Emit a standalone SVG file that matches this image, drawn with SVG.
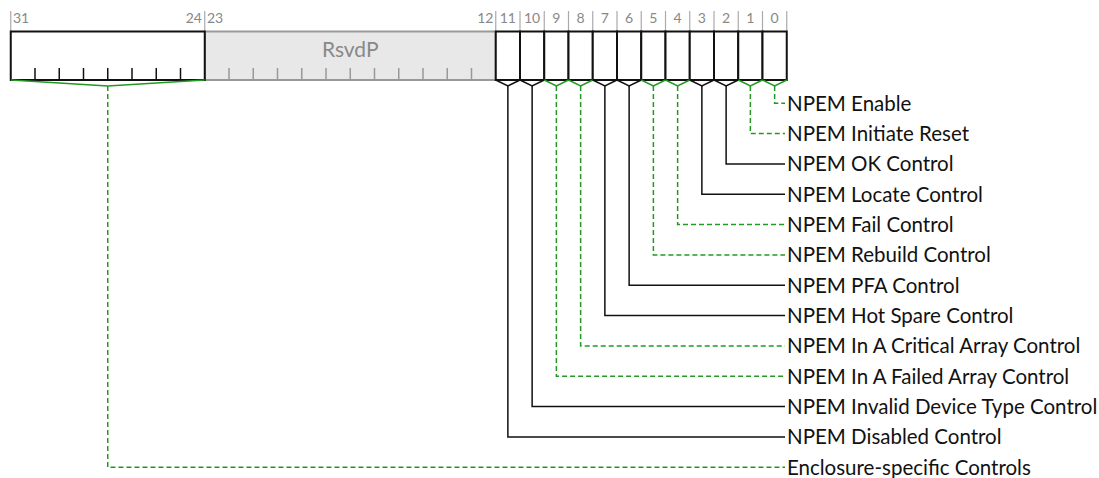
<svg xmlns="http://www.w3.org/2000/svg" width="1099" height="478" viewBox="0 0 1099 478">
<style>
.num{font-family:"Lato","Liberation Sans",sans-serif;font-size:14px;fill:#888}
.nl{stroke:#aaa;stroke-width:1.2}
.lbl{font-family:"Lato","Liberation Sans",sans-serif;font-size:20.5px;fill:#111}
.fld{fill:#fff;stroke:#111;stroke-width:2}
.rsv{fill:#e8e8e8;stroke:#999;stroke-width:2}
.tk{stroke:#111;stroke-width:1.5}
.tkg{stroke:#999;stroke-width:1.5}
.blk{fill:none;stroke:#111;stroke-width:1.5}
.grn{fill:none;stroke:#229922;stroke-width:1.5}
.dsh{fill:none;stroke:#229922;stroke-width:1.5;stroke-dasharray:5,3}
.rt{font-family:"Lato","Liberation Sans",sans-serif;font-size:21px;fill:#888}
</style>
<g id="bitnumbers">
<line class="nl" x1="10.75" y1="11" x2="10.75" y2="31"/>
<line class="nl" x1="204.75" y1="11" x2="204.75" y2="31"/>
<line class="nl" x1="495.75" y1="11" x2="495.75" y2="31"/>
<line class="nl" x1="520" y1="11" x2="520" y2="31"/>
<line class="nl" x1="544.25" y1="11" x2="544.25" y2="31"/>
<line class="nl" x1="568.5" y1="11" x2="568.5" y2="31"/>
<line class="nl" x1="592.75" y1="11" x2="592.75" y2="31"/>
<line class="nl" x1="617" y1="11" x2="617" y2="31"/>
<line class="nl" x1="641.25" y1="11" x2="641.25" y2="31"/>
<line class="nl" x1="665.5" y1="11" x2="665.5" y2="31"/>
<line class="nl" x1="689.75" y1="11" x2="689.75" y2="31"/>
<line class="nl" x1="714" y1="11" x2="714" y2="31"/>
<line class="nl" x1="738.25" y1="11" x2="738.25" y2="31"/>
<line class="nl" x1="762.5" y1="11" x2="762.5" y2="31"/>
<line class="nl" x1="786.75" y1="11" x2="786.75" y2="31"/>
<text class="num" x="13" y="22.7">31</text>
<text class="num" x="202" y="22.7" text-anchor="end">24</text>
<text class="num" x="207" y="22.7">23</text>
<text class="num" x="493.5" y="22.7" text-anchor="end">12</text>
<text class="num" x="507.875" y="22.7" text-anchor="middle">11</text>
<text class="num" x="532.125" y="22.7" text-anchor="middle">10</text>
<text class="num" x="556.375" y="22.7" text-anchor="middle">9</text>
<text class="num" x="580.625" y="22.7" text-anchor="middle">8</text>
<text class="num" x="604.875" y="22.7" text-anchor="middle">7</text>
<text class="num" x="629.125" y="22.7" text-anchor="middle">6</text>
<text class="num" x="653.375" y="22.7" text-anchor="middle">5</text>
<text class="num" x="677.625" y="22.7" text-anchor="middle">4</text>
<text class="num" x="701.875" y="22.7" text-anchor="middle">3</text>
<text class="num" x="726.125" y="22.7" text-anchor="middle">2</text>
<text class="num" x="750.375" y="22.7" text-anchor="middle">1</text>
<text class="num" x="774.625" y="22.7" text-anchor="middle">0</text>
</g>
<g id="field-rsvdp">
<rect class="rsv" x="204.75" y="31.5" width="291" height="48.5"/>
<path class="tkg" d="M229 68V80M253.25 68V80M277.5 68V80M301.75 68V80M326 68V80M350.25 68V80M374.5 68V80M398.75 68V80M423 68V80M447.25 68V80M471.5 68V80"/>
<text class="rt" x="350.25" y="57" text-anchor="middle">RsvdP</text>
</g>
<g id="field-31-24">
<rect class="fld" x="10.75" y="31.5" width="194" height="48.5"/>
<path class="tk" d="M35 68V80M59.25 68V80M83.5 68V80M107.75 68V80M132 68V80M156.25 68V80M180.5 68V80"/>
</g>
<g id="field-11-0">
<rect class="fld" x="495.75" y="31.5" width="24.25" height="48.5"/>
<rect class="fld" x="520" y="31.5" width="24.25" height="48.5"/>
<rect class="fld" x="544.25" y="31.5" width="24.25" height="48.5"/>
<rect class="fld" x="568.5" y="31.5" width="24.25" height="48.5"/>
<rect class="fld" x="592.75" y="31.5" width="24.25" height="48.5"/>
<rect class="fld" x="617" y="31.5" width="24.25" height="48.5"/>
<rect class="fld" x="641.25" y="31.5" width="24.25" height="48.5"/>
<rect class="fld" x="665.5" y="31.5" width="24.25" height="48.5"/>
<rect class="fld" x="689.75" y="31.5" width="24.25" height="48.5"/>
<rect class="fld" x="714" y="31.5" width="24.25" height="48.5"/>
<rect class="fld" x="738.25" y="31.5" width="24.25" height="48.5"/>
<rect class="fld" x="762.5" y="31.5" width="24.25" height="48.5"/>
</g>
<g id="connectors">
<polyline class="grn" points="10.75,80 107.75,86 204.75,80"/>
<polyline class="blk" points="495.75,80 507.875,86 520,80"/>
<polyline class="blk" points="520,80 532.125,86 544.25,80"/>
<polyline class="grn" points="544.25,80 556.375,86 568.5,80"/>
<polyline class="grn" points="568.5,80 580.625,86 592.75,80"/>
<polyline class="blk" points="592.75,80 604.875,86 617,80"/>
<polyline class="blk" points="617,80 629.125,86 641.25,80"/>
<polyline class="grn" points="641.25,80 653.375,86 665.5,80"/>
<polyline class="grn" points="665.5,80 677.625,86 689.75,80"/>
<polyline class="blk" points="689.75,80 701.875,86 714,80"/>
<polyline class="blk" points="714,80 726.125,86 738.25,80"/>
<polyline class="grn" points="738.25,80 750.375,86 762.5,80"/>
<polyline class="grn" points="762.5,80 774.625,86 786.75,80"/>
<polyline class="dsh" points="774.625,86 774.625,103.3 785,103.3"/>
<polyline class="dsh" points="750.375,86 750.375,133.6 785,133.6"/>
<polyline class="blk" points="726.125,86 726.125,164 785,164"/>
<polyline class="blk" points="701.875,86 701.875,194.3 785,194.3"/>
<polyline class="dsh" points="677.625,86 677.625,224.6 785,224.6"/>
<polyline class="dsh" points="653.375,86 653.375,255 785,255"/>
<polyline class="blk" points="629.125,86 629.125,285.3 785,285.3"/>
<polyline class="blk" points="604.875,86 604.875,315.6 785,315.6"/>
<polyline class="dsh" points="580.625,86 580.625,345.9 785,345.9"/>
<polyline class="dsh" points="556.375,86 556.375,376.3 785,376.3"/>
<polyline class="blk" points="532.125,86 532.125,406.6 785,406.6"/>
<polyline class="blk" points="507.875,86 507.875,436.9 785,436.9"/>
<polyline class="dsh" points="107.75,86 107.75,467.3 785,467.3"/>
</g>
<g id="labels">
<text class="lbl" x="787" y="110.7">NPEM Enable</text>
<text class="lbl" x="787" y="141">NPEM Initiate Reset</text>
<text class="lbl" x="787" y="171.4">NPEM OK Control</text>
<text class="lbl" x="787" y="201.7">NPEM Locate Control</text>
<text class="lbl" x="787" y="232">NPEM Fail Control</text>
<text class="lbl" x="787" y="262.4">NPEM Rebuild Control</text>
<text class="lbl" x="787" y="292.7">NPEM PFA Control</text>
<text class="lbl" x="787" y="323">NPEM Hot Spare Control</text>
<text class="lbl" x="787" y="353.3">NPEM In A Critical Array Control</text>
<text class="lbl" x="787" y="383.7">NPEM In A Failed Array Control</text>
<text class="lbl" x="787" y="414">NPEM Invalid Device Type Control</text>
<text class="lbl" x="787" y="444.3">NPEM Disabled Control</text>
<text class="lbl" x="787" y="474.7">Enclosure-specific Controls</text>
</g>
</svg>
